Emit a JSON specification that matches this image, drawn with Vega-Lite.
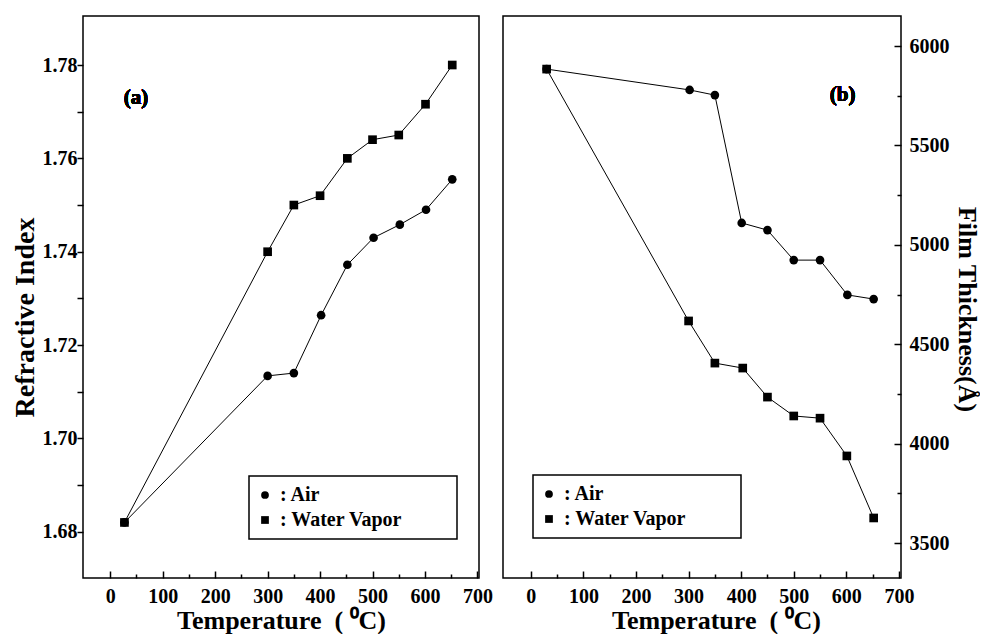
{
  "$schema": "https://vega.github.io/schema/vega-lite/v6.json",
  "padding": {"left": 10, "top": 15, "right": 0, "bottom": 0},
  "bounds": "flush",
  "spacing": 24,
  "background": "white",
  "datasets": {
    "a": [
      {"atmos": "Air", "T": 27, "v": 1.682},
      {"atmos": "Air", "T": 300, "v": 1.7134},
      {"atmos": "Air", "T": 350, "v": 1.714},
      {"atmos": "Air", "T": 402, "v": 1.7264},
      {"atmos": "Air", "T": 452, "v": 1.7372},
      {"atmos": "Air", "T": 502, "v": 1.743},
      {"atmos": "Air", "T": 552, "v": 1.7458},
      {"atmos": "Air", "T": 602, "v": 1.749},
      {"atmos": "Air", "T": 652, "v": 1.7555},
      {"atmos": "Water Vapor", "T": 27, "v": 1.682},
      {"atmos": "Water Vapor", "T": 300, "v": 1.74},
      {"atmos": "Water Vapor", "T": 350, "v": 1.75},
      {"atmos": "Water Vapor", "T": 400, "v": 1.752},
      {"atmos": "Water Vapor", "T": 452, "v": 1.76},
      {"atmos": "Water Vapor", "T": 500, "v": 1.764},
      {"atmos": "Water Vapor", "T": 550, "v": 1.765},
      {"atmos": "Water Vapor", "T": 601, "v": 1.7716},
      {"atmos": "Water Vapor", "T": 652, "v": 1.78}
    ],
    "b": [
      {"atmos": "Air", "T": 30, "v": 5884},
      {"atmos": "Air", "T": 302, "v": 5779},
      {"atmos": "Air", "T": 350, "v": 5753},
      {"atmos": "Air", "T": 401, "v": 5110},
      {"atmos": "Air", "T": 450, "v": 5074},
      {"atmos": "Air", "T": 500, "v": 4923},
      {"atmos": "Air", "T": 550, "v": 4923},
      {"atmos": "Air", "T": 602, "v": 4748},
      {"atmos": "Air", "T": 652, "v": 4727},
      {"atmos": "Water Vapor", "T": 30, "v": 5884},
      {"atmos": "Water Vapor", "T": 300, "v": 4617},
      {"atmos": "Water Vapor", "T": 350, "v": 4405},
      {"atmos": "Water Vapor", "T": 403, "v": 4380},
      {"atmos": "Water Vapor", "T": 450, "v": 4234},
      {"atmos": "Water Vapor", "T": 500, "v": 4139},
      {"atmos": "Water Vapor", "T": 550, "v": 4128},
      {"atmos": "Water Vapor", "T": 601, "v": 3938},
      {"atmos": "Water Vapor", "T": 652, "v": 3626}
    ]
  },
  "hconcat": [
    {
      "width": 396,
      "height": 562,
      "data": {"name": "a"},
      "encoding": {
        "x": {
          "field": "T", "type": "quantitative",
          "scale": {"domain": [-52, 703], "nice": false, "zero": false},
          "axis": {
            "title": "Temperature\u00a0 (\u00a0⁰C)",
            "values": [0, 50, 100, 150, 200, 250, 300, 350, 400, 450, 500, 550, 600, 650, 700],
            "labelExpr": "datum.value % 100 == 0 ? datum.label : ''",
            "tickSize": {"condition": {"test": "datum.value % 100 != 0", "value": -4}, "value": -7},
            "labelPadding": 15,
            "titlePadding": -2,
            "labelFont": "Liberation Serif", "labelFontSize": 20, "labelFontWeight": "bold", "labelColor": "black",
            "titleFont": "Liberation Serif", "titleFontSize": 26, "titleFontWeight": "bold", "titleColor": "black"
          }
        },
        "y": {
          "field": "v", "type": "quantitative",
          "scale": {"domain": [1.6701, 1.7905], "nice": false, "zero": false},
          "axis": {
            "title": "Refractive Index",
            "titleY": 301,
            "values": [1.68, 1.69, 1.7, 1.71, 1.72, 1.73, 1.74, 1.75, 1.76, 1.77, 1.78],
            "labelExpr": "round(datum.value * 100) % 2 == 0 ? format(datum.value, '.2f') : ''",
            "tickSize": 6,
            "labelPadding": 0,
            "titlePadding": 3,
            "labelFont": "Liberation Serif", "labelFontSize": 20, "labelFontWeight": "bold", "labelColor": "black",
            "titleFont": "Liberation Serif", "titleFontSize": 28, "titleFontWeight": "bold", "titleColor": "black"
          }
        }
      },
      "layer": [
        {"mark": {"type": "line", "color": "black", "strokeWidth": 1}, "encoding": {"detail": {"field": "atmos"}}},
        {
          "mark": {"type": "point", "filled": true, "color": "black", "opacity": 1, "size": 75},
          "encoding": {
            "shape": {
              "field": "atmos", "type": "nominal",
              "scale": {"domain": ["Air", "Water Vapor"], "range": ["circle", "square"]},
              "legend": {
                "orient": "none", "legendX": 166, "legendY": 460, "title": null,
                "labelExpr": "': ' + datum.label + '\u00a0\u00a0\u00a0\u00a0\u00a0\u00a0\u2800'",
                "labelFont": "Liberation Serif", "labelFontSize": 20, "labelFontWeight": "bold", "labelColor": "black",
                "labelLimit": 400, "labelOffset": 5,
                "strokeColor": "black", "fillColor": "white", "padding": 9,
                "symbolOffset": -3, "symbolSize": 60, "symbolFillColor": "black", "symbolStrokeColor": "black", "symbolStrokeWidth": 0,
                "rowPadding": 5
              }
            }
          }
        },
        {
          "mark": {"type": "text", "font": "Liberation Serif", "fontWeight": "bold", "fontSize": 21, "color": "black"},
          "encoding": {"x": {"datum": 49}, "y": {"datum": 1.7729}, "text": {"value": "(a)"}}
        }
      ]
    },
    {
      "width": 398,
      "height": 562,
      "data": {"name": "b"},
      "encoding": {
        "x": {
          "field": "T", "type": "quantitative",
          "scale": {"domain": [-53, 704], "nice": false, "zero": false},
          "axis": {
            "title": "Temperature\u00a0 (\u00a0⁰C)",
            "titleX": 213,
            "values": [0, 50, 100, 150, 200, 250, 300, 350, 400, 450, 500, 550, 600, 650, 700],
            "labelExpr": "datum.value % 100 == 0 ? datum.label : ''",
            "tickSize": {"condition": {"test": "datum.value % 100 != 0", "value": -4}, "value": -7},
            "labelPadding": 15,
            "titlePadding": -2,
            "labelFont": "Liberation Serif", "labelFontSize": 20, "labelFontWeight": "bold", "labelColor": "black",
            "titleFont": "Liberation Serif", "titleFontSize": 26, "titleFontWeight": "bold", "titleColor": "black"
          }
        },
        "y": {
          "field": "v", "type": "quantitative",
          "scale": {"domain": [3324, 6151], "nice": false, "zero": false},
          "axis": {
            "orient": "right",
            "title": "Film Thickness(Å)",
            "titleAngle": 90,
            "titleY": 293,
            "values": [3500, 3750, 4000, 4250, 4500, 4750, 5000, 5250, 5500, 5750, 6000],
            "labelExpr": "datum.value % 500 == 0 ? datum.label : ''",
            "format": "d",
            "tickSize": {"condition": {"test": "datum.value % 500 != 0", "value": -4}, "value": -7},
            "labelPadding": 15,
            "titlePadding": 4,
            "labelFont": "Liberation Serif", "labelFontSize": 20, "labelFontWeight": "bold", "labelColor": "black",
            "titleFont": "Liberation Serif", "titleFontSize": 26, "titleFontWeight": "bold", "titleColor": "black"
          }
        }
      },
      "layer": [
        {"mark": {"type": "line", "color": "black", "strokeWidth": 1}, "encoding": {"detail": {"field": "atmos"}}},
        {
          "mark": {"type": "point", "filled": true, "color": "black", "opacity": 1, "size": 75},
          "encoding": {
            "shape": {
              "field": "atmos", "type": "nominal",
              "scale": {"domain": ["Air", "Water Vapor"], "range": ["circle", "square"]},
              "legend": {
                "orient": "none", "legendX": 30, "legendY": 459, "title": null,
                "labelExpr": "': ' + datum.label + '\u00a0\u00a0\u00a0\u00a0\u00a0\u00a0\u2800'",
                "labelFont": "Liberation Serif", "labelFontSize": 20, "labelFontWeight": "bold", "labelColor": "black",
                "labelLimit": 400, "labelOffset": 5,
                "strokeColor": "black", "fillColor": "white", "padding": 9,
                "symbolOffset": -3, "symbolSize": 60, "symbolFillColor": "black", "symbolStrokeColor": "black", "symbolStrokeWidth": 0,
                "rowPadding": 5
              }
            }
          }
        },
        {
          "mark": {"type": "text", "font": "Liberation Serif", "fontWeight": "bold", "fontSize": 21, "color": "black"},
          "encoding": {"x": {"datum": 593}, "y": {"datum": 5754}, "text": {"value": "(b)"}}
        }
      ]
    }
  ],
  "resolve": {"scale": {"shape": "independent"}, "legend": {"shape": "independent"}},
  "config": {
    "font": "Liberation Serif",
    "view": {"stroke": "black", "strokeWidth": 1.5},
    "axis": {
      "domain": false,
      "grid": false,
      "tickColor": "black",
      "tickWidth": 1.5,
      "labelFlush": false,
      "labelOverlap": false
    },
    "legend": {"strokeWidth": 1.5}
  }
}
